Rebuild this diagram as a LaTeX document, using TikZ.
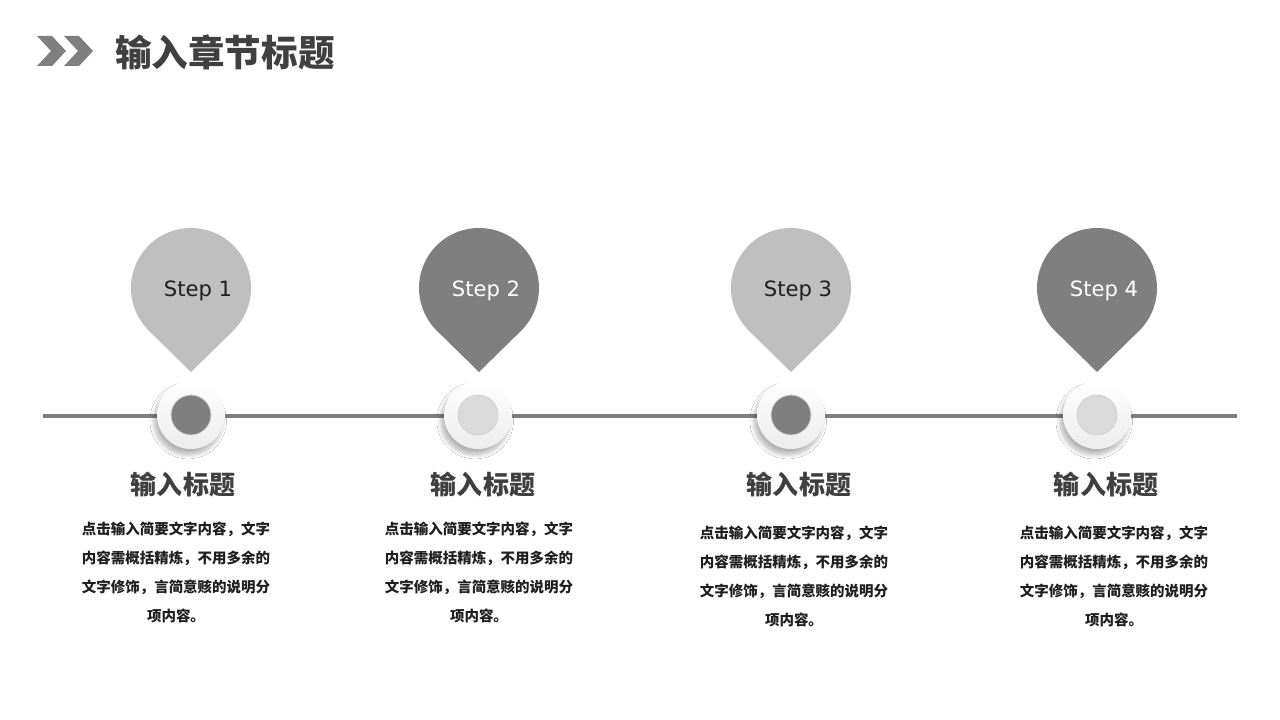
\documentclass[tikz,border=0pt]{standalone}
\usepackage{fontspec}
\setsansfont{DejaVu Sans}
\newfontfamily\cjk{Noto Sans CJK SC}
\usepackage{tikz}
\usetikzlibrary{calc}
\usetikzlibrary{shadows.blur}
\definecolor{lgray}{HTML}{BFBFBF}
\definecolor{dgray}{HTML}{7F7F7F}
\definecolor{pgray}{HTML}{DADADA}
\definecolor{ink}{HTML}{404040}
\definecolor{txt}{HTML}{1F1F1F}

\begin{document}
\begin{tikzpicture}[x=0.025cm, y=0.025cm,
  ring/.style={circle, minimum size=1.7cm, inner sep=0pt, top color=white, bottom color=gray!15,
    blur shadow={shadow xshift=-2pt, shadow yshift=-4pt, shadow blur radius=3pt, shadow blur steps=15, shadow opacity=30}},
  dot/.style={circle, minimum size=1cm, inner sep=0pt},
  steplabel/.style={font=\sffamily\fontsize{15}{15}\selectfont},
  head/.style={font=\cjk\bfseries\fontsize{18.5}{20}\selectfont, text=ink},
  body/.style={font=\cjk\bfseries\fontsize{10.3}{20.6}\selectfont, text=txt, align=center}]

\useasboundingbox [fill=white] (0,0) rectangle (1280,-720);

% chapter title
\foreach \x in {0,27} {\fill [dgray] (37+\x,-36) -- (52+\x,-36) -- (66+\x,-51) -- (52+\x,-66) -- (37+\x,-66) -- (51+\x,-51) -- cycle;}
\node [anchor=west, inner sep=0pt, text=ink, font=\cjk\bfseries\fontsize{26}{26}\selectfont] (title) at (115,-52) {输入章节标题};

% time line
\coordinate (L) at (43,-416);
\coordinate (R) at (1237,-416);
\draw [dgray, line width=2.8pt] (L) -- (R);

% pins, rings and texts
\foreach \n/\x/\cx/\fc/\dc/\tc/\hx/\dx/\dy in {1/191/191/lgray/dgray/txt/183/176/572,
  2/479/478/dgray/pgray/white/483/479/572,
  3/791/791/lgray/dgray/txt/799/794/576,
  4/1097/1097/dgray/pgray/white/1106/1114/576} {
  \fill [\fc] (\x,-372) -- ($(\x,-288)+(-45.6:1.5cm)$) arc [start angle=-45.6, end angle=225.6, radius=1.5cm] -- cycle;
  \node [steplabel, text=\tc] (step\n) at (\x+7,-291) {Step \n};
  \node [ring] (ring\n) at (\cx,-415) {};
  \node [dot, fill=\dc, draw=gray!35, line width=0.6pt] (dot\n) at (ring\n) {};
  \node [head] (head\n) at (\hx,-485) {输入标题};
  \node [body] (text\n) at (\dx,-\dy) {点击输入简要文字内容，文字\\内容需概括精炼，不用多余的\\文字修饰，言简意赅的说明分\\项内容。};
}

\end{tikzpicture}
\end{document}
